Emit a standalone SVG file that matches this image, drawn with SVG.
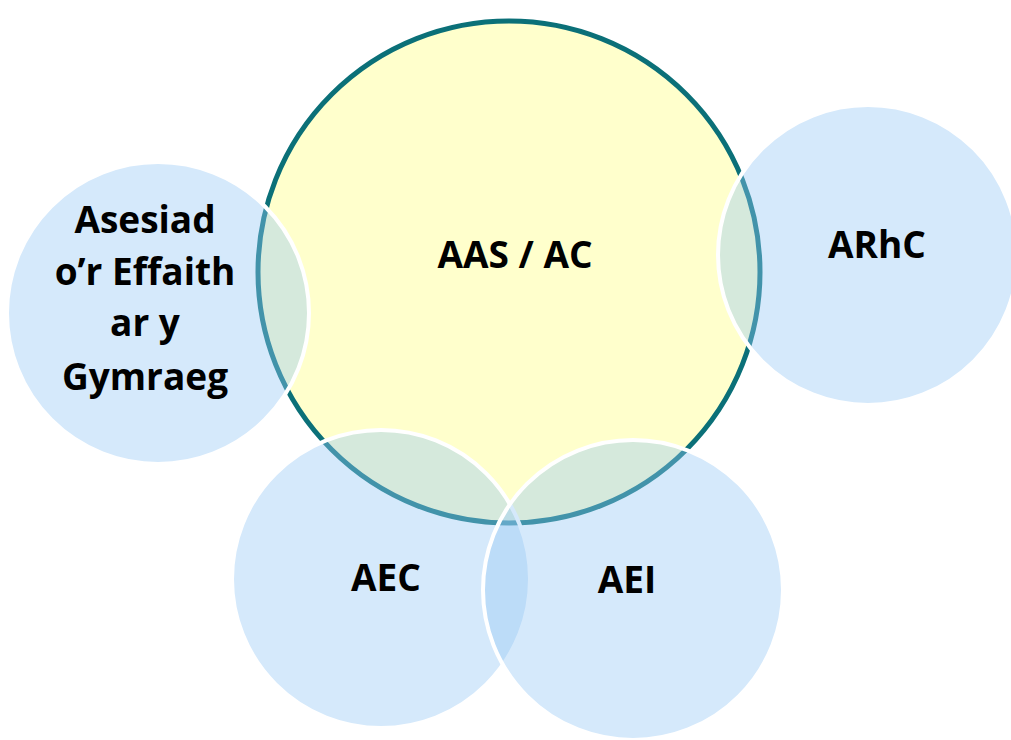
<svg xmlns="http://www.w3.org/2000/svg" width="1011" height="740" viewBox="0 0 1011 740">
<style>
.blue{fill:rgb(150,199,245);fill-opacity:0.4;stroke:#ffffff;stroke-width:4}
.main{fill:#ffffcc;stroke:#0b7078;stroke-width:5}
text{font-family:"Open Sans","Liberation Sans",sans-serif;font-weight:bold;font-size:37px;fill:#000;text-anchor:middle}
</style>
<rect width="1011" height="740" fill="#ffffff"/>
<g id="aas-ac">
<circle class="main" cx="509" cy="272" r="251"/>
<text x="515" y="268">AAS / AC</text>
</g>
<g id="asesiad">
<circle class="blue" cx="158" cy="313" r="151"/>
<text x="145" y="233">Asesiad</text>
<text x="145" y="285">o’r Effaith</text>
<text x="145" y="336">ar y</text>
<text x="145" y="390">Gymraeg</text>
</g>
<g id="arhc">
<circle class="blue" cx="868" cy="255" r="150"/>
<text x="877" y="258">ARhC</text>
</g>
<g id="aec">
<circle class="blue" cx="381" cy="579" r="149"/>
<text x="386" y="591">AEC</text>
</g>
<g id="aei">
<circle class="blue" cx="633" cy="590" r="150"/>
<text x="627" y="593">AEI</text>
</g>
<g id="connectors"></g>
</svg>
